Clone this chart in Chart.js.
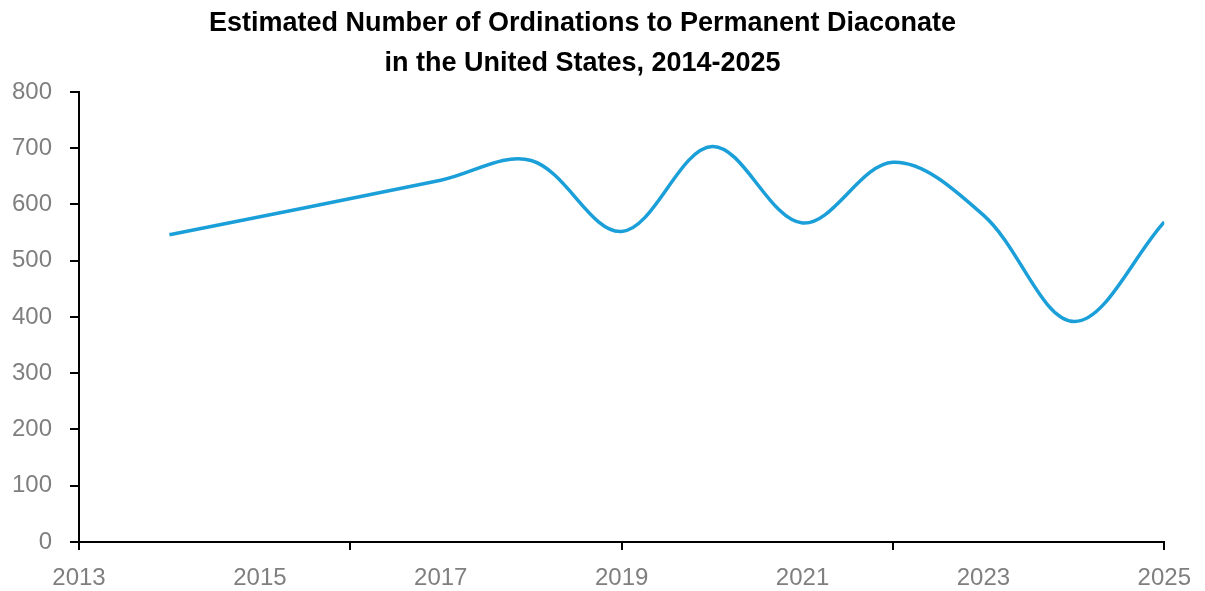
<!DOCTYPE html>
<html>
<head>
<meta charset="utf-8">
<script src="https://cdn.jsdelivr.net/npm/chart.js@4"></script>
<style>
  html, body { margin: 0; padding: 0; background: #fff; }
  #wrap { width: 1205px; height: 591px; }
</style>
</head>
<body>
<div id="wrap"><canvas id="linegraph"></canvas></div>
<script>
// years with a reported estimate (2015 and 2016 not shown)
var years = [2014, 2017, 2018, 2019, 2020, 2021, 2022, 2023, 2024, 2025];
var ordinations = [546, 643, 678, 552, 703, 567, 675, 581, 392, 569];
var titleLines = ['Estimated Number of Ordinations to Permanent Diaconate', 'in the United States, 2014-2025'];

var points = years.map(function(y, i) {
    return { x: y, y: ordinations[i] };
});

var ctx = document.getElementById('linegraph').getContext('2d');
window.myLine = new Chart(ctx, {
    type: 'line',
    data: {
        datasets: [{
            label: 'Ordinations',
            data: points,
            borderColor: '#1b9fd8',
            borderWidth: 3.5,
            pointRadius: 0,
            fill: false,
            tension: 0.35
        }]
    },
    options: {
        responsive: true,
        maintainAspectRatio: false,
        animation: false,
        layout: { padding: { left: 0, right: 40, top: 0, bottom: 0 } },
        plugins: {
            legend: { display: false },
            tooltip: { enabled: false },
            title: {
                display: true,
                text: titleLines,
                color: '#000',
                font: { family: '"Liberation Sans", Arial', size: 27, weight: 'bold', lineHeight: 1.48 },
                padding: { top: 4, bottom: 8 }
            }
        },
        scales: {
            x: {
                type: 'linear',
                min: 2013,
                max: 2025,
                afterFit: function(scale) { scale.height = 49; },
                border: { display: true, color: '#000', width: 2 },
                grid: {
                    drawOnChartArea: false,
                    drawTicks: true,
                    tickLength: 8,
                    lineWidth: 2,
                    tickColor: function(c) {
                        return (c.tick && c.tick.value % 3 === 0) ? '#000' : 'rgba(0,0,0,0)';
                    }
                },
                ticks: {
                    stepSize: 1,
                    autoSkip: false,
                    maxRotation: 0,
                    padding: 14,
                    color: '#7f7f7f',
                    font: { family: '"Liberation Sans", Arial', size: 24 },
                    callback: function(v) { return (v % 2 === 1) ? String(v) : ''; }
                }
            },
            y: {
                min: 0,
                max: 800,
                afterFit: function(scale) { scale.width = 79; },
                border: { display: true, color: '#000', width: 2 },
                grid: {
                    drawOnChartArea: false,
                    drawTicks: true,
                    tickLength: 9,
                    lineWidth: 2,
                    tickColor: '#000'
                },
                ticks: {
                    stepSize: 100,
                    padding: 18,
                    color: '#7f7f7f',
                    font: { family: '"Liberation Sans", Arial', size: 24 }
                }
            }
        }
    }
});
</script>
</body>
</html>
